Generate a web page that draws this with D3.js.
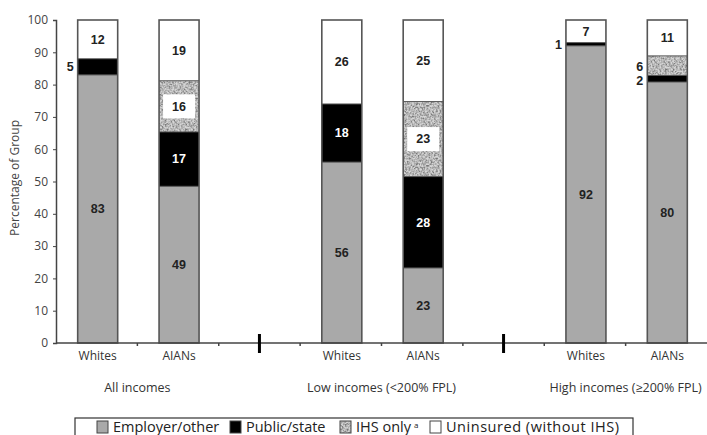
<!DOCTYPE html>
<html><head><meta charset="utf-8">
<script src="https://cdn.jsdelivr.net/npm/d3@7"></script>
<style>body{margin:0;background:#fff}svg{display:block}</style>
</head><body>
<script>
const slots = ["Whites|All","AIANs|All","gap1","Whites|Low","AIANs|Low","gap2","Whites|High","AIANs|High"];
const barLabels = ["Whites","AIANs","Whites","AIANs","Whites","AIANs"];
const groupLabels = ["All incomes","Low incomes (<200% FPL)","High incomes (\u2265200% FPL)"];
const seriesNames = ["Employer/other","Public/state","IHS only","Uninsured (without IHS)"];
const employer  = [83, 49, 56, 23, 92, 80];
const publicSt  = [5, 17, 18, 28, 1, 2];
const ihsOnly   = [0, 16, 0, 23, 0, 6];
const uninsured = [12, 19, 26, 25, 7, 11];
const yTicks = [0,10,20,30,40,50,60,70,80,90,100];
const barSlots = [0,1,3,4,6,7];
const gapSlots = [2,5];

const W=707,H=435;
const svg=d3.select("body").append("svg").attr("width",W).attr("height",H);
const defs=svg.append("defs");
// mottled stipple texture for IHS
const flt=defs.append("filter").attr("id","noise").attr("x",0).attr("y",0).attr("width","100%").attr("height","100%");
flt.append("feTurbulence").attr("type","fractalNoise").attr("baseFrequency",0.55).attr("numOctaves",2).attr("seed",3).attr("result","n");
flt.append("feColorMatrix").attr("in","n").attr("type","matrix")
  .attr("values","0 0 0 0 0  0 0 0 0 0  0 0 0 0 0  0 0 0 -2.2 1.5").attr("result","a");
flt.append("feFlood").attr("flood-color","#d6d6d6").attr("result","bg");
flt.append("feFlood").attr("flood-color","#777").attr("result","fg");
flt.append("feComposite").attr("in","fg").attr("in2","a").attr("operator","in").attr("result","dots");
flt.append("feMerge").call(m=>{m.append("feMergeNode").attr("in","bg");m.append("feMergeNode").attr("in","dots");});
const pat=defs.append("pattern").attr("id","ihs").attr("patternUnits","userSpaceOnUse").attr("width",60).attr("height",60);
pat.append("rect").attr("width",60).attr("height",60).attr("filter","url(#noise)");

const x=d3.scaleBand().domain(d3.range(slots.length)).range([56,707]).paddingInner(0).paddingOuter(0);
const y=d3.scaleLinear().domain([0,100]).range([343,20]);

const rows=barSlots.map((s,i)=>({slot:s,employer:employer[i],public:publicSt[i],ihs:ihsOnly[i],uninsured:uninsured[i]}));
const keys=["employer","public","ihs","uninsured"];
const fills={employer:"#a9a9a9",public:"#000",ihs:"url(#ihs)",uninsured:"#fff"};
const stack=d3.stack().keys(keys).offset(d3.stackOffsetExpand)(rows);

const bw=40;
const bx=s=>x(s)+x.bandwidth()/2-bw/2+1;

stack.forEach(layer=>{
  svg.append("g").selectAll("rect").data(layer).join("rect")
    .attr("x",d=>bx(d.data.slot)).attr("width",bw)
    .attr("y",d=>y(d[1]*100)).attr("height",d=>y(d[0]*100)-y(d[1]*100))
    .attr("fill",fills[layer.key]);
});
// outlines
svg.append("g").selectAll("rect").data(rows).join("rect")
  .attr("x",d=>bx(d.slot)).attr("width",bw).attr("y",y(100)).attr("height",y(0)-y(100))
  .attr("fill","none").attr("stroke","#555").attr("stroke-width",1.6);
// segment boundaries
stack.slice(0,3).forEach(layer=>{
  svg.append("g").selectAll("line").data(layer.filter(d=>d.data[layer.key]>0)).join("line")
   .attr("x1",d=>bx(d.data.slot)).attr("x2",d=>bx(d.data.slot)+bw)
   .attr("y1",d=>y(d[1]*100)).attr("y2",d=>y(d[1]*100)).attr("stroke","#555").attr("stroke-width",1);
});

// labels
const lab=svg.append("g").attr("font-family","Liberation Sans, Arial, sans-serif").attr("font-weight","bold").attr("font-size",12.5);
stack.forEach(layer=>{
  layer.forEach(d=>{
    const v=d.data[layer.key]; if(v<=0) return;
    const cx=bx(d.data.slot)+bw/2, cy=y((d[0]+d[1])/2*100);
    if(v<=6){
      // small segment: label to the left
      let off=0;
      if(layer.key==="ihs") off=1; if(layer.key==="public" && d.data.ihs>0) off=1.5;
      lab.append("text").attr("x",bx(d.data.slot)-4).attr("y",cy+off).attr("dy","0.35em").attr("text-anchor","end").attr("fill","#222").text(v);
    } else {
      if(layer.key==="ihs") lab.append("rect").attr("x",cx-16).attr("y",cy-12).attr("width",32).attr("height",24).attr("fill","#fff");
      lab.append("text").attr("x",cx).attr("y",cy).attr("dy","0.35em").attr("text-anchor","middle")
        .attr("fill",layer.key==="public"?"#fff":"#222").text(v);
    }
  });
});

// y axis
const ya=svg.append("g").attr("transform","translate(56,0)")
  .call(d3.axisLeft(y).tickValues(yTicks).tickSize(3).tickPadding(5));
ya.select(".domain").attr("stroke","#444").attr("stroke-width",1.5);
ya.selectAll(".tick line").attr("stroke","#444");
ya.selectAll("text").attr("font-family","Open Sans, sans-serif").attr("font-size",12).attr("fill","#444");

// x axis
const xa=svg.append("g");
xa.append("line").attr("x1",56).attr("x2",707).attr("y1",343).attr("y2",343).attr("stroke","#444").attr("stroke-width",1.5);
xa.selectAll("line.t").data(d3.range(1,slots.length)).join("line").attr("class","t")
  .attr("x1",d=>x(d)).attr("x2",d=>x(d)).attr("y1",343).attr("y2",346).attr("stroke","#444").attr("stroke-width",1.5);
xa.selectAll("line.s").data(gapSlots).join("line").attr("class","s")
  .attr("x1",d=>x(d)+x.bandwidth()/2).attr("x2",d=>x(d)+x.bandwidth()/2).attr("y1",334).attr("y2",353).attr("stroke","#000").attr("stroke-width",3);
xa.selectAll("text.b").data(barSlots).join("text").attr("class","b")
  .attr("x",(d)=>bx(d)+bw/2).attr("y",356).attr("dy","0.35em").attr("text-anchor","middle")
  .attr("font-family","Open Sans, sans-serif").attr("font-size",12).attr("fill","#333").text((d,i)=>barLabels[i]);
xa.selectAll("text.g").data(groupLabels).join("text").attr("class","g")
  .attr("x",(d,i)=>x(barSlots[i*2]+1)).attr("y",388).attr("dy","0.35em").attr("text-anchor","middle")
  .attr("font-family","Open Sans, sans-serif").attr("font-size",12.5).attr("fill","#333").text(d=>d);

// y title
svg.append("text").attr("transform","translate(15,178) rotate(-90)").attr("text-anchor","middle").attr("dy","0.35em")
  .attr("font-family","Open Sans, sans-serif").attr("font-size",12).attr("fill","#444").text("Percentage of Group");

// legend
const lg=svg.append("g");
lg.append("rect").attr("x",75).attr("y",418).attr("width",558).attr("height",30).attr("fill","#fff").attr("stroke","#333").attr("stroke-width",1.2);
const lgX=[97,230,340,430];
const lgFill=["#a9a9a9","#000","url(#ihs)","#fff"];
seriesNames.forEach((n,i)=>{
  lg.append("rect").attr("x",lgX[i]).attr("y",421).attr("width",11).attr("height",12).attr("fill",lgFill[i]).attr("stroke","#444").attr("stroke-width",1);
  const t=lg.append("text").attr("x",lgX[i]+16).attr("y",427).attr("dy","0.35em")
    .attr("font-family","Open Sans, sans-serif").attr("font-size",14.5).attr("fill","#222").text(n);
  if(i===3) t.attr("textLength",173).attr("lengthAdjust","spacing");
  if(i===2) t.append("tspan").attr("dx",3).attr("dy","-0.5em").attr("font-size",8).text("a");
});
</script>
</body></html>
